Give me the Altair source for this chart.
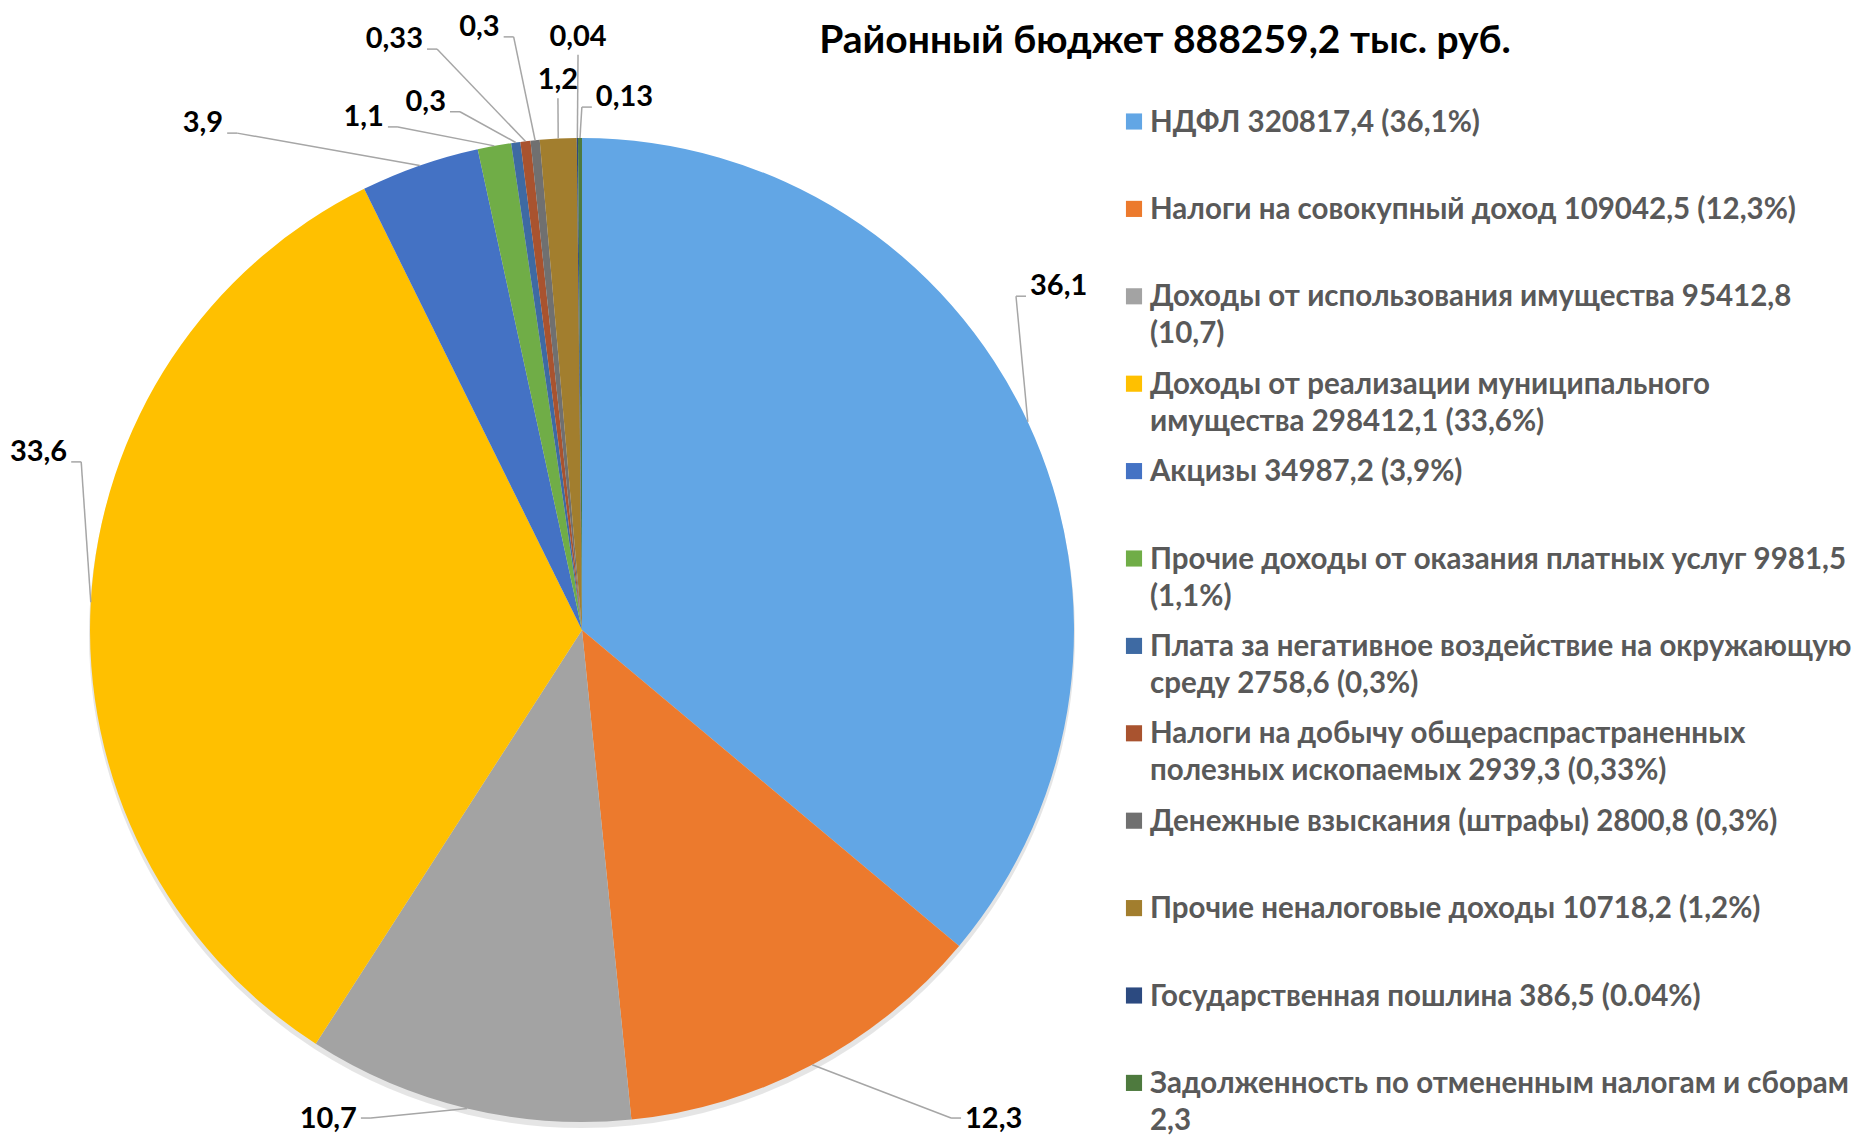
import altair as alt
import pandas as pd

# ---------------- data ----------------
TITLE = "Районный бюджет 888259,2 тыс. руб."

LEGEND_TEXT = [
    "НДФЛ 320817,4 (36,1%)",
    "Налоги на совокупный доход 109042,5 (12,3%)",
    "Доходы от использования имущества 95412,8\n(10,7)",
    "Доходы от реализации муниципального\nимущества 298412,1 (33,6%)",
    "Акцизы 34987,2 (3,9%)",
    "Прочие доходы от оказания платных услуг 9981,5\n(1,1%)",
    "Плата за негативное воздействие на окружающую\nсреду 2758,6  (0,3%)",
    "Налоги на добычу общераспрастраненных\nполезных ископаемых 2939,3 (0,33%)",
    "Денежные взыскания (штрафы) 2800,8 (0,3%)",
    "Прочие неналоговые доходы 10718,2 (1,2%)",
    "Государственная пошлина 386,5 (0.04%)",
    "Задолженность по отмененным налогам и сборам\n2,3",
]
SHARES = [36.1, 12.3, 10.7, 33.6, 3.9, 1.1, 0.3, 0.33, 0.3, 1.2, 0.04, 0.13]
LABELS = ["36,1", "12,3", "10,7", "33,6", "3,9", "1,1", "0,3", "0,33", "0,3", "1,2", "0,04", "0,13"]

# ---------------- styling / layout ----------------
COLORS = ["#62A6E5", "#EC7A2D", "#A3A3A3", "#FFC000", "#4472C4", "#70AD47",
          "#3E6AA3", "#A9532F", "#707070", "#A27E2E", "#2C4A80", "#4E7A3E"]
# where each data label sits: angle around the pie (in % of the circle) and distance (x radius)
LABEL_AT = [14.74, 39.49, 56.77, 80.06, 90.13, 94.14, 96.03, 95.85, 97.91, 99.28, 99.89, 0.30]
LABEL_R = [1.129, 1.256, 1.089, 1.093, 1.241, 1.096, 1.087, 1.222, 1.216, 1.082, 1.169, 1.063]

FONT = "Lato"
PT = 64
W, H = 1847, 1128 - PT
CX, CY, R = 574, 558, 492
LEG_X, LEG_Y0, LEG_STEP = 1126, 49.5, 87.4
LEG_TX = 1142

df = pd.DataFrame({
    "cat": LEGEND_TEXT,
    "share": SHARES,
    "lab": LABELS,
    "la": LABEL_AT,
    "lr": LABEL_R,
})

base = (
    alt.Chart(df)
    .transform_window(idx="row_number()")
    .transform_window(cum="sum(share)", frame=[None, 0])
    .transform_calculate(
        ex=f"{CX} + {R} * sin(2 * PI * (datum.cum - datum.share / 2) / 100)",
        ey=f"{CY} - {R} * cos(2 * PI * (datum.cum - datum.share / 2) / 100)",
        ax=f"{CX} + {R} * datum.lr * sin(2 * PI * datum.la / 100)",
        ay=f"{CY} - {R} * datum.lr * cos(2 * PI * datum.la / 100)",
        side="datum.la < 50 ? 'L' : (datum.la < 99 ? 'R' : 'C')",
        ly=f"{LEG_Y0} + (datum.idx - 1) * {LEG_STEP}",
    )
    .transform_calculate(
        sx="datum.ax + (datum.side == 'L' ? -10 : (datum.side == 'R' ? 10 : 0))",
        tx="datum.ax + (datum.side == 'L' ? 4 : (datum.side == 'R' ? -4 : 0))",
        ty="datum.ay + ((datum.la > 25 && datum.la < 75) ? 10 : (datum.side == 'C' ? -9 : -1))",
        lty="datum.ly + 10",
    )
)

color = alt.Color("cat:N", scale=alt.Scale(domain=LEGEND_TEXT, range=COLORS), legend=None)
theta = alt.Theta("share:Q", stack=True)
order = alt.Order("idx:Q", sort="ascending")

shadow = base.mark_arc(outerRadius=R + 1, color="#000000", opacity=0.10).encode(
    theta=theta, order=order, x=alt.value(CX), y=alt.value(CY + 5)
)

pie = base.mark_arc(outerRadius=R).encode(
    theta=theta, color=color, order=order, x=alt.value(CX), y=alt.value(CY)
)

X = lambda f: alt.X(f, type="quantitative", scale=None, axis=None)
Y = lambda f: alt.Y(f, type="quantitative", scale=None, axis=None)

stub = base.mark_rule(color="#A6A6A6", strokeWidth=1.5).encode(
    x=X("ax"), x2=alt.X2("sx"), y=Y("ay"), y2=alt.Y2("ay")
)
leader = base.mark_rule(color="#A6A6A6", strokeWidth=1.5).encode(
    x=X("sx"), x2=alt.X2("ex"), y=Y("ay"), y2=alt.Y2("ey")
)

def labels(side, align):
    return base.transform_filter(f"datum.side == '{side}'").mark_text(
        align=align, baseline="alphabetic", font=FONT, fontSize=29,
        fontWeight="bold", color="#000000"
    ).encode(x=X("tx"), y=Y("ty"), text="lab:N")

leg_sym = base.mark_square(size=260, opacity=1).encode(
    x=alt.value(LEG_X), y=Y("ly"), color=color
)
leg_txt = base.mark_text(
    align="left", baseline="alphabetic", lineBreak="\n", lineHeight=37,
    font=FONT, fontSize=29.5, fontWeight="bold", color="#595959"
).encode(x=alt.value(LEG_TX), y=Y("lty"), text="cat:N")

title = alt.Chart(pd.DataFrame({"t": [TITLE]})).mark_text(
    align="center", baseline="alphabetic", font=FONT, fontSize=39,
    fontWeight="bold", color="#000000"
).encode(x=alt.value(1157), y=alt.value(-19), text="t:N")

chart = (
    alt.layer(shadow, pie, stub, leader, labels("L", "left"), labels("R", "right"),
              labels("C", "center"), leg_sym, leg_txt, title)
    .properties(
        width=W, height=H,
        padding={"left": 0, "top": PT, "right": 0, "bottom": 0},
        autosize=alt.AutoSizeParams(type="none"),
    )
    .configure_view(stroke=None)
)

chart.save("out.html", embed_options={"renderer": "svg", "actions": False})
